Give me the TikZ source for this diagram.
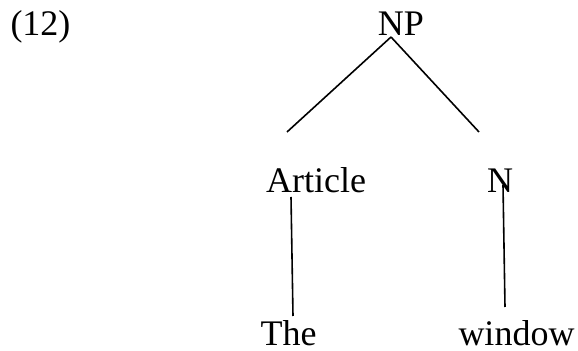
\documentclass[tikz,border=0pt]{standalone}
\usepackage{fontspec}
\setmainfont{Liberation Serif}
\usetikzlibrary{positioning}

\begin{document}
\begin{tikzpicture}[x=0.5pt,y=-0.5pt,
    every node/.style={anchor=base,inner sep=0pt,font=\fontsize{18}{21.6}\selectfont},
    branch/.style={line width=0.8pt}]
    \useasboundingbox (0,0) rectangle (578,351);
    % labels
    \node (ex) at (40.5,36) {(12)};
    \node (NP) at (401,36) {NP};
    \node (Art) at (316,193) {Article};
    \node (N) at (500,193) {N};
    \node (The) at (288.5,346) {The};
    \node (win) at (516.5,346) {window};
    % free ends of the branches
    \coordinate (np-top) at (391,37);
    \coordinate (art-top) at (287,132);
    \coordinate (n-top) at (479,132);
    \coordinate (art-low) at (291,197);
    \coordinate (the-top) at (293,316);
    \coordinate (n-low) at (503,185);
    \coordinate (win-top) at (505,307);
    \draw[branch] (np-top) -- (art-top);
    \draw[branch] (np-top) -- (n-top);
    \draw[branch] (art-low) -- (the-top);
    \draw[branch] (n-low) -- (win-top);
\end{tikzpicture}
\end{document}
